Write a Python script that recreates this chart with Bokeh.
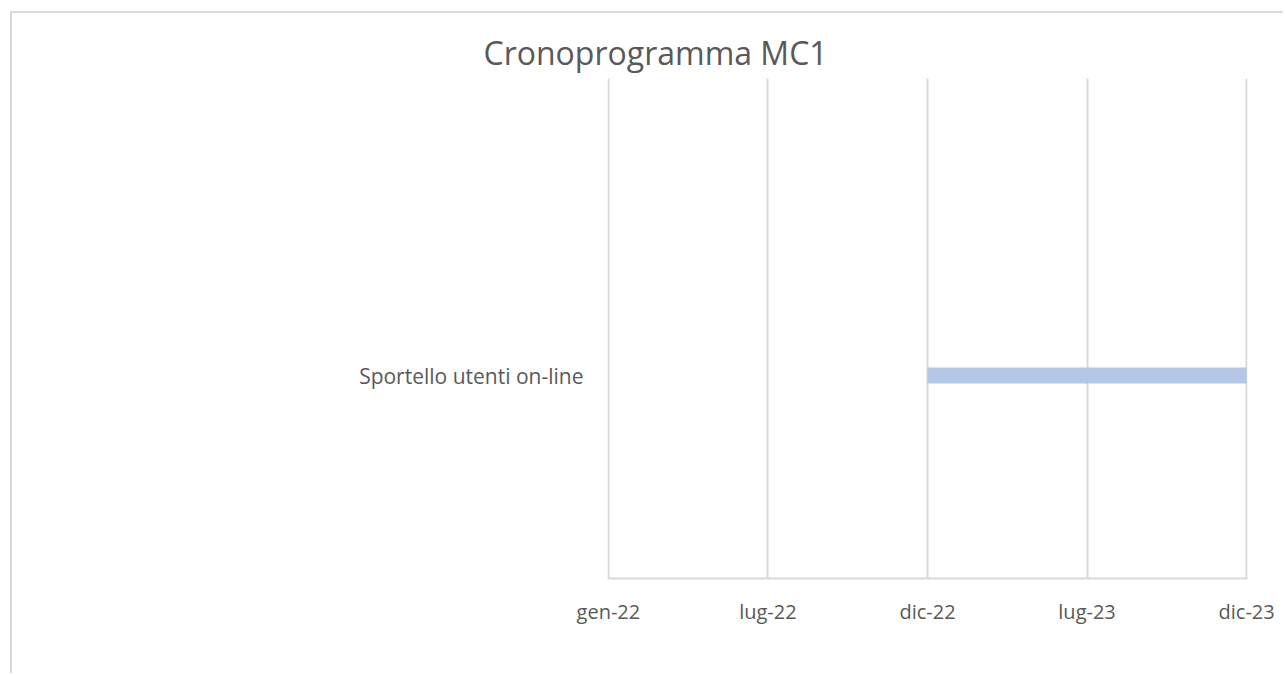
from bokeh.plotting import figure
from bokeh.models import Range1d, FixedTicker
from bokeh.embed import file_html
from bokeh.resources import INLINE

# ---- data ----
title_text = "Cronoprogramma MC1"
tasks = ["Sportello utenti on-line"]
task_start = [44922]   # dic-22 (Excel serial days)
task_end = [45282]     # dic-23
tick_values = [44562, 44742, 44922, 45102, 45282]
tick_labels = ["gen-22", "lug-22", "dic-22", "lug-23", "dic-23"]

FONT = "Open Sans"
TXT = "#595959"
GRID = "#d9d9d9"

p = figure(width=1273, height=662, output_backend="svg", toolbar_location=None,
           x_range=Range1d(tick_values[0] - 1, tick_values[-1] + 1),
           y_range=Range1d(-0.406, 0.594),
           title=title_text,
           min_border_left=595, min_border_right=38, min_border_top=65, min_border_bottom=97)
p.outline_line_color = None
p.background_fill_color = "white"
p.border_fill_color = "white"

p.title.align = "left"
p.title.offset = -124
p.title.text_font = FONT
p.title.text_font_size = "32px"
p.title.text_font_style = "normal"
p.title.text_color = TXT
p.title.standoff = 10

ys = list(range(len(tasks)))
p.hbar(y=ys, left=task_start, right=task_end, height=0.032,
       fill_color="#b4c7e7", line_color=None)

p.xaxis.ticker = FixedTicker(ticks=tick_values)
p.xaxis.major_label_overrides = {v: l for v, l in zip(tick_values, tick_labels)}
p.xaxis.axis_line_color = GRID
p.xaxis.axis_line_width = 2
p.xaxis.major_tick_line_color = None
p.xaxis.minor_tick_line_color = None
p.xaxis.major_label_standoff = 13
p.xaxis.major_label_text_font = FONT
p.xaxis.major_label_text_font_size = "20px"
p.xaxis.major_label_text_color = TXT

p.yaxis.ticker = FixedTicker(ticks=ys)
p.yaxis.major_label_overrides = {y: t for y, t in zip(ys, tasks)}
p.yaxis.axis_line_color = None
p.yaxis.major_tick_line_color = None
p.yaxis.minor_tick_line_color = None
p.yaxis.major_label_standoff = 18
p.yaxis.major_label_text_font = FONT
p.yaxis.major_label_text_font_size = "21px"
p.yaxis.major_label_text_color = TXT

p.xgrid.ticker = FixedTicker(ticks=tick_values)
p.xgrid.grid_line_color = GRID
p.xgrid.grid_line_width = 2
p.ygrid.grid_line_color = None

p.styles = {"border-left": "2px solid #d9d9d9", "border-top": "2px solid #d9d9d9",
            "margin-left": "10px", "margin-top": "11px"}

open("out.html", "w").write(file_html(p, INLINE))
